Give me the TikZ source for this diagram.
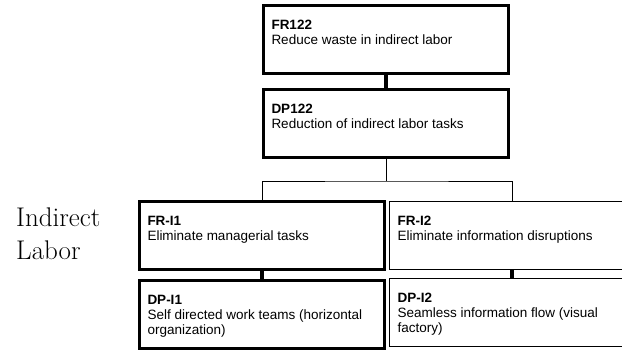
\documentclass[tikz,border=0pt]{standalone}
\usepackage{fontspec}
\newfontfamily\boxfont{Liberation Sans}

\newcommand{\boxtext}[2]{\parbox[t][60pt][t]{229pt}{\raggedright\hyphenpenalty=10000
  \rule{0pt}{20pt}\textbf{#1}\\#2}}

\tikzset{
  fdbox/.style={draw, anchor=north west, inner xsep=8pt, inner ysep=4pt,
    font=\boxfont\fontsize{13.5}{15}\selectfont},
  heavy/.style={fdbox, line width=3pt},
  light/.style={fdbox, line width=1.2pt},
  link/.style={line width=4pt},
  thinlink/.style={line width=1pt}
}

\begin{document}
\begin{tikzpicture}[x=1pt,y=-1pt]
  \useasboundingbox (0,0) rectangle (622,349);
  \clip (0,0) rectangle (622,349);

  % top level
  \node[heavy] (fr122) at (262,4) {\boxtext{FR122}{Reduce waste in indirect labor}};
  \node[heavy] (dp122) at (262,88) {\boxtext{DP122}{Reduction of indirect labor tasks}};

  % indirect labor branch
  \node[heavy] (fri1) at (138,200) {\boxtext{FR-I1}{Eliminate managerial tasks}};
  \node[heavy] (dpi1) at (138,279) {\boxtext{DP-I1}{Self directed work teams (horizontal organization)}};
  \node[light] (fri2) at (389,201) {\boxtext{FR-I2}{Eliminate information disruptions}};
  \node[light] (dpi2) at (389,278) {\boxtext{DP-I2}{Seamless information flow (visual factory)}};

  \node[anchor=north west, align=left, inner sep=0pt, font=\fontsize{27}{33}\selectfont]
    (label) at (16,208) {Indirect\\Labor};

  % connectors
  \draw[link] (fr122.south) -- (dp122.north);
  \draw[thinlink] (dp122.south) -- ++(0,22) coordinate (bus);
  \draw[thinlink] (fri1.north) |- (bus) -| (fri2.north);
  \draw[link] (fri1.south) -- (dpi1.north);
  \draw[link] (fri2.south) -- (dpi2.north);
\end{tikzpicture}
\end{document}
